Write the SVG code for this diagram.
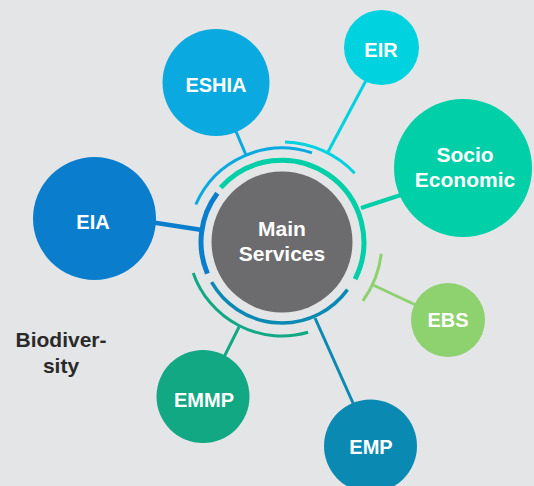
<svg xmlns="http://www.w3.org/2000/svg" width="534" height="486" viewBox="0 0 534 486">
<style>
.lbl{font-family:"Liberation Sans",Arial,sans-serif;font-weight:bold;font-size:20px;fill:#ffffff;text-anchor:middle}
.big{font-size:21px}
.bio{font-family:"Liberation Sans",Arial,sans-serif;font-weight:bold;font-size:21px;fill:#2a2a2a;text-anchor:middle}
.ln{fill:none;stroke-linecap:butt}
</style>
<rect width="534" height="486" fill="#e4e5e7"/>
<g id="connectors">
  <path class="ln" d="M195.8,204.5 A94,94 0 0 1 312,152.9" stroke="#0aa9df" stroke-width="3"/>
  <path class="ln" d="M285,142 A100,100 0 0 1 354.7,173.3" stroke="#00d2df" stroke-width="3"/>
  <path class="ln" d="M220.7,187.6 A82,82 0 0 1 355.1,279.1" stroke="#00cfa8" stroke-width="5"/>
  <path class="ln" d="M207.4,273.6 A81,81 0 0 1 217.3,193.3" stroke="#0a7ecc" stroke-width="5"/>
  <path class="ln" d="M381.3,253.8 A100,100 0 0 1 362.9,300.8" stroke="#8ed16f" stroke-width="3"/>
  <path class="ln" d="M308.1,332.3 A94,94 0 0 1 193.2,272.9" stroke="#12a883" stroke-width="3"/>
  <path class="ln" d="M347.5,289.6 A81,81 0 0 1 211.6,282.1" stroke="#0a89b3" stroke-width="3.5"/>
  <line class="ln" x1="232" y1="122" x2="246" y2="155" stroke="#0aa9df" stroke-width="3"/>
  <line class="ln" x1="370" y1="73" x2="328" y2="152" stroke="#00d2df" stroke-width="3"/>
  <line class="ln" x1="410" y1="192" x2="361" y2="208" stroke="#00cfa8" stroke-width="4"/>
  <line class="ln" x1="150" y1="222" x2="202" y2="230" stroke="#0a7ecc" stroke-width="4.5"/>
  <line class="ln" x1="420" y1="307" x2="373" y2="285" stroke="#8ed16f" stroke-width="3"/>
  <line class="ln" x1="220" y1="365" x2="239" y2="327" stroke="#12a883" stroke-width="3"/>
  <line class="ln" x1="357" y1="412" x2="315" y2="318" stroke="#0a89b3" stroke-width="3"/>
</g>
<g id="main">
  <circle cx="282" cy="242" r="70.5" fill="#6c6c6e"/>
  <text class="lbl big" x="282" y="236">Main</text>
  <text class="lbl big" x="282" y="261">Services</text>
</g>
<g id="eshia">
  <circle cx="216" cy="82.5" r="53.5" fill="#0aa9df"/>
  <text class="lbl" x="216" y="92">ESHIA</text>
</g>
<g id="eir">
  <circle cx="381.5" cy="47.5" r="37.5" fill="#00d2df"/>
  <text class="lbl" x="381" y="57">EIR</text>
</g>
<g id="socio">
  <circle cx="463" cy="168" r="69" fill="#00cfa8"/>
  <text class="lbl big" x="465" y="162">Socio</text>
  <text class="lbl big" x="465" y="187">Economic</text>
</g>
<g id="eia">
  <circle cx="94.5" cy="218.5" r="61.5" fill="#0a7ecc"/>
  <text class="lbl" x="93" y="229">EIA</text>
</g>
<g id="ebs">
  <circle cx="448" cy="320" r="37" fill="#8ed16f"/>
  <text class="lbl" x="448" y="327">EBS</text>
</g>
<g id="emmp">
  <circle cx="203" cy="396.5" r="46.5" fill="#12a883"/>
  <text class="lbl" x="204" y="407">EMMP</text>
</g>
<g id="emp">
  <circle cx="370.5" cy="446" r="46.5" fill="#0a89b3"/>
  <text class="lbl" x="371" y="454">EMP</text>
</g>
<g id="biodiversity">
  <text class="bio" x="61" y="347">Biodiver-</text>
  <text class="bio" x="61" y="373">sity</text>
</g>
</svg>
